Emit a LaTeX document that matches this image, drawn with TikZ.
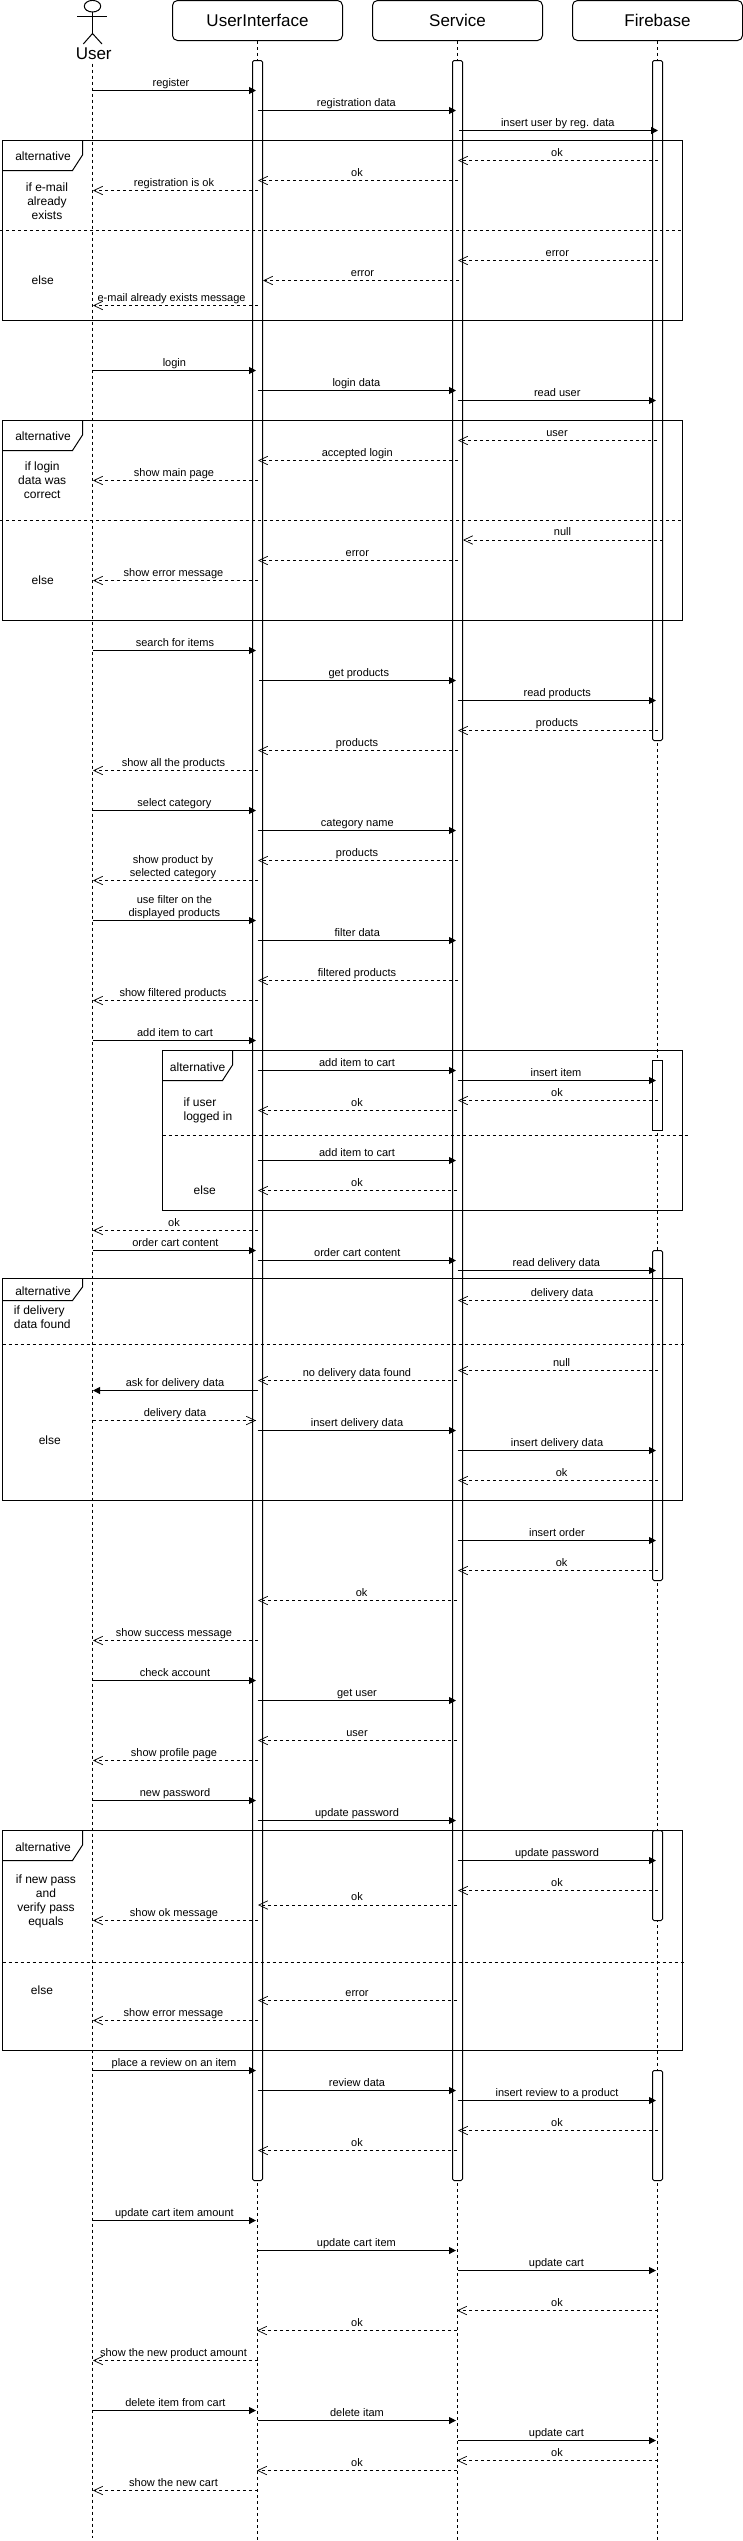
\documentclass[tikz,border=0pt]{standalone}
\usepackage{fontspec}
\setmainfont{Liberation Sans}
\usetikzlibrary{positioning,arrows.meta}
\tikzset{
  headbox/.style={draw, rounded corners=5pt, minimum width=170pt, minimum height=40pt, inner sep=0pt, font=\fontsize{17}{20}\selectfont},
  lifeline/.style={dash pattern=on 3pt off 3pt},
  activation/.style={draw, fill=white, rounded corners=1.5pt},
  altframe/.style={draw},
  altdash/.style={dash pattern=on 3pt off 3pt},
  altname/.style={font=\fontsize{12}{14}\selectfont, inner sep=0pt},
  condtext/.style={font=\fontsize{12}{14}\selectfont, align=center, inner sep=0pt},
  callmsg/.style={-{Triangle[length=7pt,width=7pt]}},
  replymsg/.style={dash pattern=on 3pt off 3pt, -{Straight Barb[length=9pt,width=8.5pt,line width=0.7pt]}},
  msglabel/.style={font=\fontsize{11}{13}\selectfont, align=center, anchor=south, inner sep=0pt, text depth=3pt}
}
% one message: style, name, from x, to x, y, label x, label
\newcommand{\seqmsg}[7]{
  \coordinate (#2a) at (#3,#5);
  \coordinate (#2b) at (#4,#5);
  \draw[#1] (#2a) -- (#2b);
  \node[msglabel] (#2t) at (#6,#5-0.6) {#7};
}
\begin{document}
\begin{tikzpicture}[x=1pt,y=-1pt,line width=1pt]
\useasboundingbox (0,0) rectangle (743,2541);

% heads
\node[headbox] (ui) at (257.5,20.5) {UserInterface};
\node[headbox] (srv) at (457.5,20.5) {Service};
\node[headbox] (fb) at (657.5,20.5) {Firebase};
\draw (92.5,6.2) ellipse (8.2 and 5.8);
\draw (77.3,16.5) -- (107.3,16.5);
\draw (92.5,12) -- (92.5,33.5);
\draw (83.3,44) -- (92.5,33.5) -- (102,44);
\node[font=\fontsize{17}{20}\selectfont, inner sep=0pt] (user) at (93.7,53.5) {User};

% lifelines
\coordinate (userstart) at (92.5,63.5);
\coordinate (userend) at (92.5,2538);
\coordinate (uiend) at (257.5,2540);
\coordinate (srvend) at (457.5,2540);
\coordinate (fbend) at (657.5,2540);
\draw[lifeline] (userstart) -- (userend);
\draw[lifeline] (ui) -- (uiend);
\draw[lifeline] (srv) -- (srvend);
\draw[lifeline] (fb) -- (fbend);

% activations
\draw[activation] (252.5,60.5) rectangle (262.5,2180.5);
\draw[activation] (452.5,60.5) rectangle (462.5,2180.5);
\draw[activation] (652.5,60.5) rectangle (662.5,740.5);
\draw[activation, sharp corners] (652.5,1060.5) rectangle (662.5,1130.5);
\draw[activation] (652.5,1250.5) rectangle (662.5,1580.5);
\draw[activation] (652.5,1830.5) rectangle (662.5,1920.5);
\draw[activation] (652.5,2070.5) rectangle (662.5,2180.5);

% alt frames
\draw[altframe] (2.5,140.5) rectangle (682.5,320.5);
\draw[altframe] (2.5,170.5) -- (72.5,170.5) -- (82.5,155) -- (82.5,140.5);
\draw[altdash] (0,230.5) -- (682.5,230.5);
\node[altname] (alt1) at (43,156.7) {alternative};
\node[condtext] (cond1) at (47,201) {if e-mail\\already\\exists};
\node[condtext] (else1) at (42.7,280.7) {else};

\draw[altframe] (2.5,420.5) rectangle (682.5,620.5);
\draw[altframe] (2.5,450.5) -- (72.5,450.5) -- (82.5,435) -- (82.5,420.5);
\draw[altdash] (0,520.5) -- (682.5,520.5);
\node[altname] (alt2) at (43,436.7) {alternative};
\node[condtext] (cond2) at (42.2,480.7) {if login\\data was\\correct};
\node[condtext] (else2) at (42.7,580.7) {else};

\draw[altframe] (162.5,1050.5) rectangle (682.5,1210.5);
\draw[altframe] (162.5,1080.5) -- (222.5,1080.5) -- (232.5,1065) -- (232.5,1050.5);
\draw[altdash] (162.5,1135.5) -- (688,1135.5);
\node[altname] (alt3) at (197.6,1066.7) {alternative};
\node[condtext, align=left] (cond3) at (208,1110.7) {if user\\logged in};
\node[condtext] (else3) at (204.7,1189.7) {else};

\draw[altframe] (2.5,1278.5) rectangle (682.5,1500.5);
\draw[altframe] (2.5,1300.5) -- (72.5,1300.5) -- (82.5,1287) -- (82.5,1278.5);
\draw[altdash] (2.5,1344.5) -- (684.5,1344.5);
\node[altname] (alt4) at (43,1290.7) {alternative};
\node[condtext, align=left] (cond4) at (42.3,1316.7) {if delivery\\data found};
\node[condtext] (else4) at (49.8,1440) {else};

\draw[altframe] (2.5,1830.5) rectangle (682.5,2050.5);
\draw[altframe] (2.5,1860.5) -- (72.5,1860.5) -- (82.5,1845) -- (82.5,1830.5);
\draw[altdash] (2.5,1962.5) -- (684,1962.5);
\node[altname] (alt5) at (43,1846.7) {alternative};
\node[condtext] (cond5) at (46,1901) {if new pass\\and\\verify pass\\equals};
\node[condtext] (else5) at (42,1989.7) {else};

% register
\seqmsg{callmsg}{ra}{92.5}{256}{90.5}{171}{register}
\seqmsg{callmsg}{rb}{257.5}{456}{110.5}{356.4}{registration data}
\seqmsg{callmsg}{rc}{459}{658}{130.5}{557.8}{insert user by reg. data}
\seqmsg{replymsg}{rd}{657.5}{458}{160.5}{557}{ok}
\seqmsg{replymsg}{re}{458}{258}{180.5}{357}{ok}
\seqmsg{replymsg}{rf}{257.5}{93}{190.5}{174}{registration is ok}
\seqmsg{replymsg}{rg}{657.5}{458}{260.5}{557.3}{error}
\seqmsg{replymsg}{rh}{459}{263}{280.5}{362.5}{error}
\seqmsg{replymsg}{ri}{257.5}{93}{305.5}{171.6}{e-mail already exists message}

% login
\seqmsg{callmsg}{la}{92.5}{256}{370.5}{174.4}{login}
\seqmsg{callmsg}{lb}{257.5}{456}{390.5}{356.4}{login data}
\seqmsg{callmsg}{lc}{457.5}{656}{400.5}{557.3}{read user}
\seqmsg{replymsg}{ld}{657}{458}{440.5}{557}{user}
\seqmsg{replymsg}{le}{458}{258}{460.5}{357.3}{accepted login}
\seqmsg{replymsg}{lf}{257.5}{93}{480.5}{174}{show main page}
\seqmsg{replymsg}{lg}{662.5}{463}{540}{562.5}{null}
\seqmsg{replymsg}{lh}{458}{258}{560.5}{357.3}{error}
\seqmsg{replymsg}{li}{257.5}{93}{580.5}{173.5}{show error message}

% products
\seqmsg{callmsg}{pa}{92.5}{256}{650.5}{175}{search for items}
\seqmsg{callmsg}{pb}{259}{456}{680.5}{358.8}{get products}
\seqmsg{callmsg}{pc}{457.5}{656}{700.5}{557.3}{read products}
\seqmsg{replymsg}{pd}{657.5}{458}{730.5}{557}{products}
\seqmsg{replymsg}{pe}{458}{258}{750.5}{357}{products}
\seqmsg{replymsg}{pf}{257.5}{93}{770.5}{173.5}{show all the products}
\seqmsg{callmsg}{pg}{92.5}{256}{810.5}{174.4}{select category}
\seqmsg{callmsg}{ph}{257.5}{456}{830.5}{357.3}{category name}
\seqmsg{replymsg}{pi}{458}{258}{860.5}{357}{products}
\seqmsg{replymsg}{pj}{257.5}{93}{880.5}{173}{show product by\\selected category}
\seqmsg{callmsg}{pk}{92.5}{256}{920.5}{174.4}{use filter on the\\displayed products}
\seqmsg{callmsg}{pl}{257.5}{456}{940.5}{357.3}{filter data}
\seqmsg{replymsg}{pm}{458}{258}{980.5}{357}{filtered products}
\seqmsg{replymsg}{pn}{257.5}{93}{1000.5}{173}{show filtered products}

% cart
\seqmsg{callmsg}{ca}{92.5}{256}{1040.5}{175}{add item to cart}
\seqmsg{callmsg}{cb}{257.5}{456}{1070.5}{357}{add item to cart}
\seqmsg{callmsg}{cc}{457.5}{656}{1080.5}{556}{insert item}
\seqmsg{replymsg}{cd}{657.5}{458}{1100.5}{557}{ok}
\seqmsg{replymsg}{ce}{457}{258}{1110.5}{357}{ok}
\seqmsg{callmsg}{cf}{257.5}{456}{1160.5}{357}{add item to cart}
\seqmsg{replymsg}{cg}{457}{258}{1190.5}{357}{ok}
\seqmsg{replymsg}{ch}{257.5}{93}{1230.5}{174}{ok}

% order
\seqmsg{callmsg}{oa}{92.5}{256}{1250.5}{175.4}{order cart content}
\seqmsg{callmsg}{ob}{257.5}{456}{1260.5}{357.3}{order cart content}
\seqmsg{callmsg}{oc}{457.5}{656}{1270.5}{556.4}{read delivery data}
\seqmsg{replymsg}{od}{657.5}{458}{1300.5}{562}{delivery data}
\seqmsg{replymsg}{oe}{657.5}{458}{1370.5}{561.6}{null}
\seqmsg{replymsg}{of}{457}{258}{1380.5}{357}{no delivery data found}
\seqmsg{callmsg}{og}{257.5}{93}{1390.5}{175}{ask for delivery data}
\seqmsg{replymsg}{oh}{92.5}{256}{1420.5}{175}{delivery data}
\seqmsg{callmsg}{oi}{257.5}{456}{1430.5}{357}{insert delivery data}
\seqmsg{callmsg}{oj}{457.5}{656}{1450.5}{557}{insert delivery data}
\seqmsg{replymsg}{ok}{657.5}{458}{1480.5}{561.6}{ok}
\seqmsg{callmsg}{ol}{457.5}{656}{1540.5}{557}{insert order}
\seqmsg{replymsg}{om}{657.5}{458}{1570.5}{561.6}{ok}
\seqmsg{replymsg}{on}{457}{258}{1600.5}{361.6}{ok}
\seqmsg{replymsg}{oo}{257.5}{93}{1640.5}{174}{show success message}

% account
\seqmsg{callmsg}{aa}{92.5}{256}{1680.5}{175}{check account}
\seqmsg{callmsg}{ab}{257.5}{456}{1700.5}{357}{get user}
\seqmsg{replymsg}{ac}{457}{258}{1740.5}{357}{user}
\seqmsg{replymsg}{ad}{257.5}{93}{1760.5}{174}{show profile page}
\seqmsg{callmsg}{ae}{92.5}{256}{1800.5}{175}{new password}
\seqmsg{callmsg}{af}{257.5}{456}{1820.5}{357}{update password}
\seqmsg{callmsg}{ag}{457.5}{656}{1860.5}{557}{update password}
\seqmsg{replymsg}{ah}{657.5}{458}{1890.5}{557}{ok}
\seqmsg{replymsg}{ai}{457}{258}{1905}{357}{ok}
\seqmsg{replymsg}{aj}{257.5}{93}{1920.5}{174}{show ok message}
\seqmsg{replymsg}{ak}{457}{258}{2000.5}{357}{error}
\seqmsg{replymsg}{al}{257.5}{93}{2020.5}{173.5}{show error message}

% review
\seqmsg{callmsg}{va}{92.5}{256}{2070.5}{174}{place a review on an item}
\seqmsg{callmsg}{vb}{257.5}{456}{2090.5}{357}{review data}
\seqmsg{callmsg}{vc}{457.5}{656}{2100.5}{557}{insert review to a product}
\seqmsg{replymsg}{vd}{657.5}{458}{2130.5}{557}{ok}
\seqmsg{replymsg}{ve}{457}{258}{2150.5}{357}{ok}

% update and delete
\seqmsg{callmsg}{ua}{92.5}{256}{2220.5}{174.4}{update cart item amount}
\seqmsg{callmsg}{ub}{257.5}{456}{2250.5}{356.4}{update cart item}
\seqmsg{callmsg}{uc}{457.5}{656}{2270.5}{556.4}{update cart}
\seqmsg{replymsg}{ud}{657.5}{457}{2310.5}{557}{ok}
\seqmsg{replymsg}{ue}{457}{257}{2330.5}{357}{ok}
\seqmsg{replymsg}{uf}{257.5}{93}{2360.5}{173.5}{show the new product amount}
\seqmsg{callmsg}{da}{92.5}{256}{2410.5}{175.4}{delete item from cart}
\seqmsg{callmsg}{db}{257.5}{456}{2420.5}{357}{delete itam}
\seqmsg{callmsg}{dc}{457.5}{656}{2440.5}{556.4}{update cart}
\seqmsg{replymsg}{dd}{657.5}{457}{2460.5}{557}{ok}
\seqmsg{replymsg}{de}{457}{257}{2470.5}{357}{ok}
\seqmsg{replymsg}{df}{257.5}{93}{2490.5}{173.5}{show the new cart}
\end{tikzpicture}
\end{document}
